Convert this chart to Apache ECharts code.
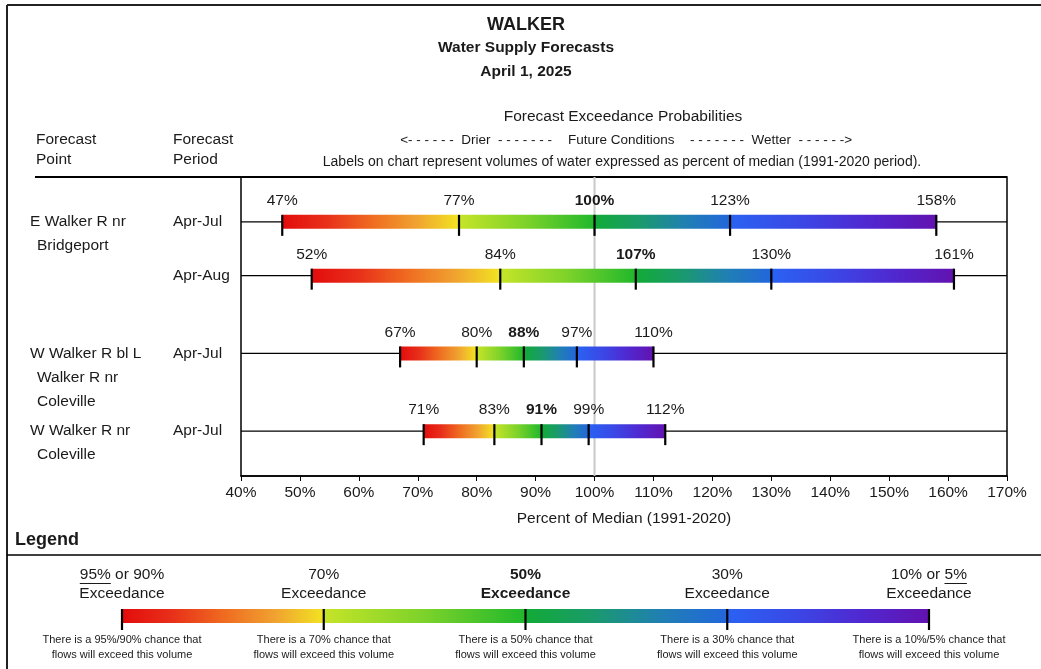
<!DOCTYPE html>
<html>
<head>
<meta charset="utf-8">
<script src="https://cdn.jsdelivr.net/npm/echarts@6/dist/echarts.min.js"></script>
<style>
  html, body { margin: 0; padding: 0; background: #ffffff; }
  #chart { width: 1041px; height: 669px; }
</style>
</head>
<body>
<div id="chart"></div>
<script>
// ---- Data -------------------------------------------------------------
const pointNames = [
  ['E Walker R nr', 'Bridgeport'],
  [],
  ['W Walker R bl L', 'Walker R nr', 'Coleville'],
  ['W Walker R nr', 'Coleville']
];
const periods = ['Apr-Jul', 'Apr-Aug', 'Apr-Jul', 'Apr-Jul'];
// Forecast volumes (% of median) at 90/95, 70, 50, 30, 10/5 % exceedance
const exc90 = [47, 52, 67, 71];
const exc70 = [77, 84, 80, 83];
const exc50 = [100, 107, 88, 91];
const exc30 = [123, 130, 97, 99];
const exc10 = [158, 161, 110, 112];
const axisMin = 40, axisMax = 170, axisStep = 10;
const medianLine = 100;

const legendHeads = [
  ['95% or 90%', 'Exceedance'],
  ['70%', 'Exceedance'],
  ['50%', 'Exceedance'],
  ['30%', 'Exceedance'],
  ['10% or 5%', 'Exceedance']
];
const legendNotes = [
  ['There is a 95%/90% chance that', 'flows will exceed this volume'],
  ['There is a 70% chance that', 'flows will exceed this volume'],
  ['There is a 50% chance that', 'flows will exceed this volume'],
  ['There is a 30% chance that', 'flows will exceed this volume'],
  ['There is a 10%/5% chance that', 'flows will exceed this volume']
];

// ---- Layout / style ---------------------------------------------------
const FONT = '"Liberation Sans", Arial, Helvetica, sans-serif';
const INK = '#1a1a1a';
const FS = 15.5;                              // body text size
const rowSlots = [0.75, 1.65, 2.95, 4.25];   // vertical slot of each forecast row (0..5)
const BAR_H = 14;
const TICK_BELOW = 7;

// colour ramp of each span between neighbouring exceedance levels
const segmentColors = [
  ['#e30c0c', '#e8301a', '#ef6a20', '#f0a030', '#f2e422'],
  ['#c6e428', '#7cd22a', '#20b82c'],
  ['#12ab36', '#1a9a6c', '#2080b2', '#2266dc'],
  ['#2a62f2', '#3a48e6', '#5028d0', '#6212b0']
];

function gradient(colors) {
  return {
    type: 'linear', x: 0, y: 0, x2: 1, y2: 0,
    colorStops: colors.map((c, i) => ({ offset: i / (colors.length - 1), color: c }))
  };
}

function rangeBar(xs, yc, children) {
  for (let k = 0; k < 4; k++) {
    children.push({
      type: 'rect',
      shape: { x: xs[k], y: yc - BAR_H / 2, width: xs[k + 1] - xs[k], height: BAR_H },
      style: { fill: gradient(segmentColors[k]) }
    });
  }
  for (let k = 0; k < 5; k++) {
    children.push({
      type: 'line',
      shape: { x1: xs[k], y1: yc - BAR_H / 2, x2: xs[k], y2: yc + BAR_H / 2 + TICK_BELOW },
      style: { stroke: '#000', lineWidth: 2.2 }
    });
  }
}

const seriesRows = exc90.map((v, i) => [rowSlots[i], exc90[i], exc70[i], exc50[i], exc30[i], exc10[i], i]);

function renderForecast(params, api) {
  const yv = api.value(0);
  const idx = api.value(6);
  const xs = [1, 2, 3, 4, 5].map(d => api.coord([api.value(d), yv])[0]);
  const yc = api.coord([axisMin, yv])[1];
  const cs = params.coordSys;
  const children = [];
  // whisker across the whole plot
  children.push({
    type: 'line',
    shape: { x1: cs.x, y1: yc, x2: cs.x + cs.width, y2: yc },
    style: { stroke: '#000', lineWidth: 1.4 }
  });
  rangeBar(xs, yc, children);
  // value labels
  for (let k = 0; k < 5; k++) {
    children.push({
      type: 'text',
      style: {
        text: Math.round(api.value(k + 1)) + '%',
        x: xs[k], y: yc - 21,
        align: 'center', verticalAlign: 'middle',
        font: (k === 2 ? 'bold ' : '') + FS + 'px ' + FONT,
        fill: INK
      }
    });
  }
  // forecast point and period
  const names = pointNames[idx];
  names.forEach((t, j) => {
    children.push({
      type: 'text',
      style: {
        text: t, x: j === 0 ? 30 : 37, y: yc + j * 24,
        align: 'left', verticalAlign: 'middle',
        font: FS + 'px ' + FONT, fill: INK
      }
    });
  });
  children.push({
    type: 'text',
    style: {
      text: periods[idx], x: 173, y: yc,
      align: 'left', verticalAlign: 'middle',
      font: FS + 'px ' + FONT, fill: INK
    }
  });
  return { type: 'group', children };
}

// text measuring for the underlined parts of the legend headings
const measureCtx = document.createElement('canvas').getContext('2d');
function textWidth(str, font) {
  measureCtx.font = font;
  return measureCtx.measureText(str).width;
}

function renderLegend(params, api) {
  const xs = [0, 1, 2, 3, 4].map(d => api.coord([api.value(d), 0.5])[0]);
  const yc = api.coord([0, 0.5])[1];
  const children = [];
  rangeBar(xs, yc, children);
  for (let k = 0; k < 5; k++) {
    const f = (k === 2 ? 'bold ' : '') + FS + 'px ' + FONT;
    legendHeads[k].forEach((t, j) => {
      children.push({
        type: 'text',
        style: {
          text: t, x: xs[k], y: yc - 41 + j * 18.5,
          align: 'center', verticalAlign: 'middle', font: f, fill: INK
        }
      });
    });
    legendNotes[k].forEach((t, j) => {
      children.push({
        type: 'text',
        style: {
          text: t, x: xs[k], y: yc + 24 + j * 15,
          align: 'center', verticalAlign: 'middle',
          font: '11px ' + FONT, fill: INK
        }
      });
    });
  }
  // underline "95%" in the first heading and "5%" in the last
  const fh = FS + 'px ' + FONT;
  const first = legendHeads[0][0];
  const w0 = textWidth(first, fh);
  const u0 = textWidth(first.split(' ')[0], fh);
  const last = legendHeads[4][0];
  const w4 = textWidth(last, fh);
  const tail = last.split(' ').pop();
  const u4 = textWidth(tail, fh);
  const uy = yc - 41 + 8.5;
  children.push({
    type: 'line',
    shape: { x1: xs[0] - w0 / 2, y1: uy, x2: xs[0] - w0 / 2 + u0, y2: uy },
    style: { stroke: INK, lineWidth: 1 }
  });
  children.push({
    type: 'line',
    shape: { x1: xs[4] + w4 / 2 - u4, y1: uy, x2: xs[4] + w4 / 2, y2: uy },
    style: { stroke: INK, lineWidth: 1 }
  });
  return { type: 'group', children };
}

function headerText(text, x, y, font, align) {
  return {
    type: 'text',
    style: { text, x, y, font, fill: INK, align: align || 'center', verticalAlign: 'middle' },
    silent: true
  };
}

const chart = echarts.init(document.getElementById('chart'), null, { renderer: 'canvas' });

chart.setOption({
  backgroundColor: '#ffffff',
  animation: false,
  grid: [
    { left: 241, right: 34, top: 177, height: 299, show: true, borderColor: '#000', borderWidth: 1.5, backgroundColor: 'transparent' },
    { left: 122, width: 807, top: 609, height: 14 }
  ],
  xAxis: [
    {
      gridIndex: 0, type: 'value', min: axisMin, max: axisMax, interval: axisStep,
      position: 'bottom',
      axisLine: { show: true, onZero: false, lineStyle: { color: '#000', width: 1.5 } },
      axisTick: { show: true, length: 5, lineStyle: { color: '#000', width: 1 } },
      splitLine: { show: false },
      axisLabel: { formatter: '{value}%', fontFamily: FONT, fontSize: FS, color: INK, margin: 9 },
      name: 'Percent of Median (1991-2020)',
      nameLocation: 'middle', nameGap: 35,
      nameTextStyle: { fontFamily: FONT, fontSize: FS, color: INK }
    },
    { gridIndex: 1, type: 'value', min: 0, max: 4, show: false }
  ],
  yAxis: [
    { gridIndex: 0, type: 'value', min: 0, max: 5, inverse: true, show: false },
    { gridIndex: 1, type: 'value', min: 0, max: 1, show: false }
  ],
  series: [
    {
      type: 'line', xAxisIndex: 0, yAxisIndex: 0,
      data: [[medianLine, 0], [medianLine, 5]],
      symbol: 'none', silent: true, z: 1,
      lineStyle: { color: '#c8c8c8', width: 2 }
    },
    {
      type: 'custom', xAxisIndex: 0, yAxisIndex: 0, z: 3, clip: false,
      encode: { x: [1, 2, 3, 4, 5], y: 0 },
      data: seriesRows,
      renderItem: renderForecast
    },
    {
      type: 'custom', xAxisIndex: 1, yAxisIndex: 1, z: 3, clip: false,
      encode: { x: [0, 1, 2, 3, 4], y: 5 },
      data: [[0, 1, 2, 3, 4, 0.5]],
      renderItem: renderLegend
    }
  ],
  graphic: [
    // page frame
    { type: 'line', shape: { x1: 7, y1: 5, x2: 1041, y2: 5 }, style: { stroke: '#222', lineWidth: 2 }, silent: true },
    { type: 'line', shape: { x1: 7, y1: 5, x2: 7, y2: 669 }, style: { stroke: '#222', lineWidth: 2 }, silent: true },
    // header rule above the chart
    { type: 'line', shape: { x1: 35, y1: 177, x2: 1007, y2: 177 }, style: { stroke: '#000', lineWidth: 2 }, silent: true },
    // legend rule
    { type: 'line', shape: { x1: 7, y1: 555, x2: 1041, y2: 555 }, style: { stroke: '#000', lineWidth: 1.5 }, silent: true },
    headerText('WALKER', 526, 25, 'bold 18px ' + FONT),
    headerText('Water Supply Forecasts', 526, 48, 'bold 15.5px ' + FONT),
    headerText('April 1, 2025', 526, 72, 'bold 15.5px ' + FONT),
    headerText('Forecast Exceedance Probabilities', 623, 117, FS + 'px ' + FONT),
    headerText('<- - - - - -  Drier  - - - - - - -', 552, 140, '13.5px ' + FONT, 'right'),
    headerText('Future Conditions', 568, 140, '13.5px ' + FONT, 'left'),
    headerText('- - - - - - -  Wetter  - - - - - ->', 690, 140, '13.5px ' + FONT, 'left'),
    headerText('Labels on chart represent volumes of water expressed as percent of median (1991-2020 period).', 622, 162, '14px ' + FONT),
    headerText('Forecast', 36, 140, FS + 'px ' + FONT, 'left'),
    headerText('Point', 36, 160, FS + 'px ' + FONT, 'left'),
    headerText('Forecast', 173, 140, FS + 'px ' + FONT, 'left'),
    headerText('Period', 173, 160, FS + 'px ' + FONT, 'left'),
    headerText('Legend', 15, 540, 'bold 18px ' + FONT, 'left')
  ]
});
</script>
</body>
</html>
